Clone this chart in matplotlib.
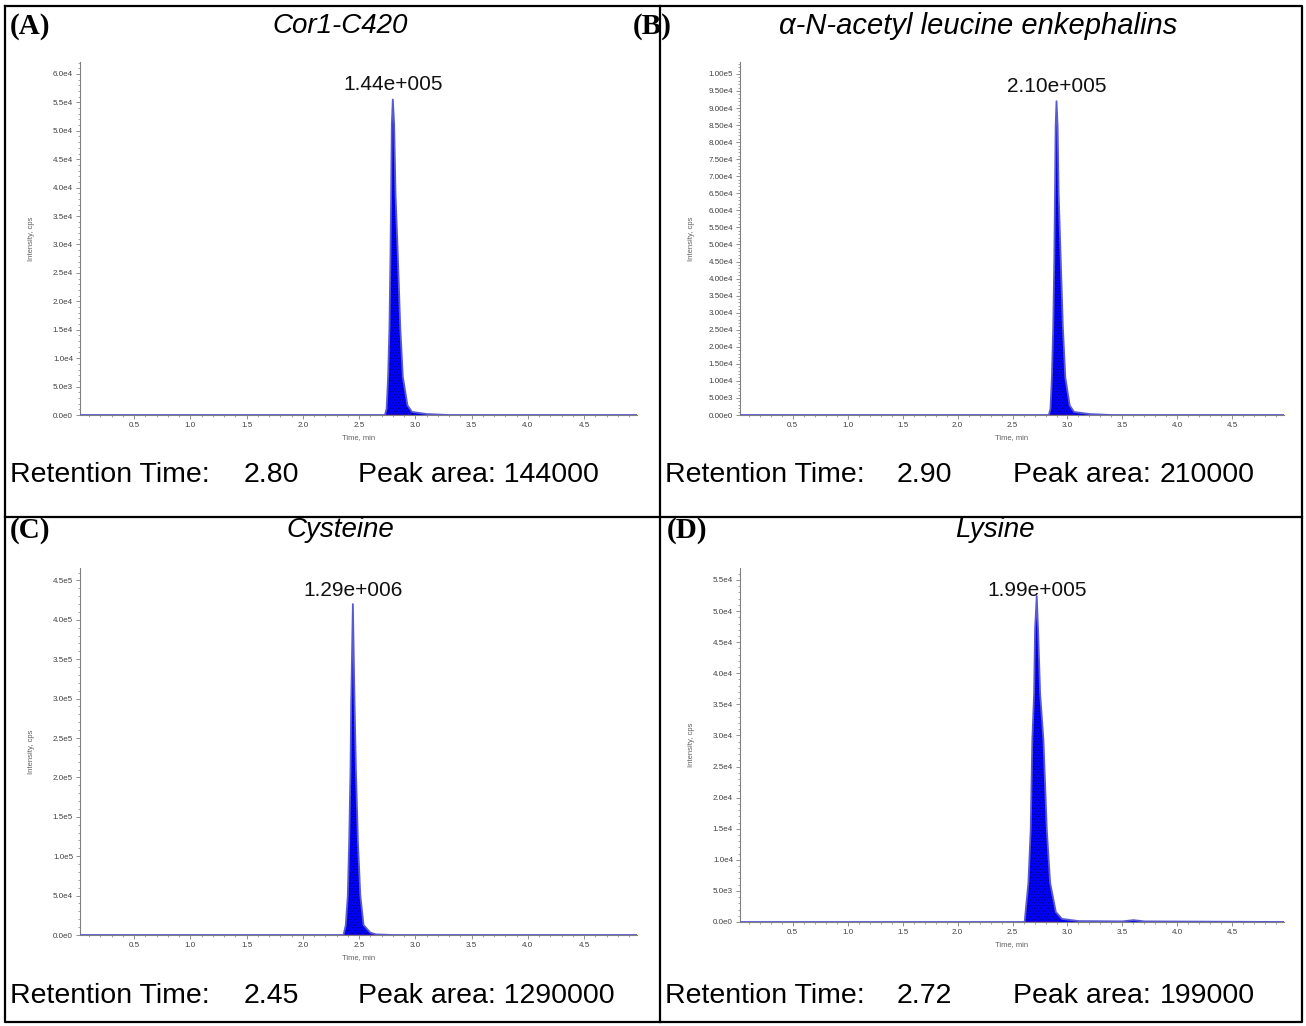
import numpy as np
import matplotlib.pyplot as plt
from matplotlib.lines import Line2D
from matplotlib.ticker import MultipleLocator, FuncFormatter

# ---- data ----
compounds = ['Cor1-C420', 'α-N-acetyl leucine enkephalins', 'Cysteine', 'Lysine']
letters = ['(A)', '(B)', '(C)', '(D)']
retention = ['2.80', '2.90', '2.45', '2.72']
peak_area = ['144000', '210000', '1290000', '199000']
peak_labels = ['1.44e+005', '2.10e+005', '1.29e+006', '1.99e+005']

time_a = [0.02, 2.70, 2.73, 2.745, 2.758, 2.770, 2.779, 2.785, 2.791, 2.80, 2.812, 2.824,
          2.845, 2.866, 2.889, 2.93, 2.97, 3.10, 3.30, 5.00]
int_a = [0, 0, 0, 1100, 6700, 15500, 27800, 38900, 51100, 55500, 51100, 38900,
         27800, 15500, 6700, 1700, 550, 170, 0, 0]

time_b = [0.02, 2.80, 2.83, 2.845, 2.858, 2.870, 2.880, 2.886, 2.892, 2.90, 2.910, 2.920,
          2.938, 2.958, 2.980, 3.02, 3.06, 3.20, 3.40, 5.00]
int_b = [0, 0, 0, 1800, 11000, 25700, 46000, 64400, 84600, 92000, 84600, 64400,
         46000, 25700, 11000, 2800, 900, 280, 0, 0]

time_c = [0.02, 2.33, 2.362, 2.382, 2.400, 2.412, 2.424, 2.430, 2.445, 2.460, 2.472,
          2.490, 2.511, 2.540, 2.600, 2.65, 2.80, 5.00]
int_c = [0, 0, 0, 12600, 50400, 117600, 210000, 294000, 420000, 294000, 210000,
         117600, 50400, 12600, 3000, 800, 0, 0]

time_d = [0.02, 2.58, 2.61, 2.644, 2.665, 2.680, 2.696, 2.705, 2.72, 2.732, 2.751,
          2.781, 2.812, 2.842, 2.894, 2.95, 3.10, 3.50, 3.60, 3.70, 5.00]
int_d = [0, 0, 0, 6300, 14700, 29300, 36700, 47200, 52400, 47200, 36700,
         29300, 14700, 6300, 1600, 500, 150, 100, 300, 100, 0]

times = [time_a, time_b, time_c, time_d]
intens = [int_a, int_b, int_c, int_d]
y_top = [6.0e4, 1.00e5, 4.5e5, 5.5e4]
y_major = [5000, 5000, 50000, 5000]
y_digits = [1, 2, 1, 1]
baseline_span = [(2.73, 2.95), (2.83, 3.05), (2.37, 2.63), (2.61, 2.90)]
x_ticks = [0.5, 1.0, 1.5, 2.0, 2.5, 3.0, 3.5, 4.0, 4.5]

# ---- layout (pixels) ----
W, H = 1306, 1026
axes_px = [(80, 62, 637, 415), (740, 62, 1284, 415),
           (80, 568, 637, 935), (740, 568, 1284, 922)]
title_x = [340, 978, 340, 995]
title_y = [26, 26, 530, 530]
title_size = [20, 21, 20, 20]
letter_x = [10, 633, 10, 667]
text_y = [475, 475, 996, 996]
col_x = [(10, 244, 358, None), (665, 897, 1013, 1160),
         (10, 244, 358, None), (665, 897, 1013, 1160)]
label_offset = [4, 4, 3, -3]

plt.rcParams['hatch.linewidth'] = 0.6
fig = plt.figure(figsize=(W / 100, H / 100), dpi=100)


def fx(px):
    return px / W


def fy(py):
    return 1 - py / H


def sci(v, d):
    if v == 0:
        return f"{0:.{d}f}e0"
    e = int(np.floor(np.log10(abs(v)) + 1e-9))
    return f"{v / 10 ** e:.{d}f}e{e}"


sans = 'Liberation Sans'
for i in range(4):
    l, t, r, b = axes_px[i]
    ax = fig.add_axes([fx(l), fy(b), fx(r - l), (b - t) / H])
    tt = np.array(times[i])
    yy = np.array(intens[i])
    ax.fill_between(tt, 0, yy, facecolor='#0000ff', edgecolor='#00008c',
                    hatch='......', linewidth=0, zorder=2)
    ax.plot(tt, yy, color='#5a5ad0', lw=1.3, zorder=3)
    s0, s1 = baseline_span[i]
    ax.plot([s0, s1], [0, 0], color='#e02020', lw=1.0, zorder=4)
    k = int(np.argmax(yy))
    ax.annotate(peak_labels[i], xy=(tt[k], yy[k]), xytext=(0, label_offset[i]),
                textcoords='offset points', ha='center', va='bottom',
                fontsize=15, family=sans, color='#111111')

    ax.set_xlim(0.02, 4.97)
    ax.set_ylim(0, y_top[i] * 1.035)
    for s in ['top', 'right']:
        ax.spines[s].set_visible(False)
    for s in ['left', 'bottom']:
        ax.spines[s].set_color('#808080')
        ax.spines[s].set_linewidth(0.8)
    ax.set_xticks(x_ticks)
    ax.set_xticklabels([f"{v:.1f}" for v in x_ticks])
    ax.xaxis.set_minor_locator(MultipleLocator(0.1))
    ax.yaxis.set_major_locator(MultipleLocator(y_major[i]))
    ax.yaxis.set_minor_locator(MultipleLocator(y_major[i] / 5))
    d = y_digits[i]
    ax.yaxis.set_major_formatter(FuncFormatter(lambda v, p, d=d: sci(v, d)))
    ax.tick_params(which='major', length=3, width=0.6, color='#808080',
                   labelsize=5.8, labelcolor='#404040', pad=2)
    ax.tick_params(which='minor', length=1.5, width=0.5, color='#808080')
    for lab in ax.get_xticklabels() + ax.get_yticklabels():
        lab.set_family(sans)
    ax.set_xlabel('Time, min', fontsize=5.5, color='#606060', family=sans, labelpad=4)
    ax.set_ylabel('Intensity, cps', fontsize=5.5, color='#606060', family=sans)
    ax.yaxis.set_label_coords(-45 / (r - l), 0.5)

    fig.text(fx(letter_x[i]), fy(title_y[i]), letters[i], fontsize=21,
             family='Liberation Serif', weight='bold', va='center', ha='left')
    fig.text(fx(title_x[i]), fy(title_y[i]), compounds[i], fontsize=title_size[i],
             family=sans, style='italic', va='center', ha='center')

    c0, c1, c2, c3 = col_x[i]
    fs = 20.5
    fig.text(fx(c0), fy(text_y[i]), 'Retention Time:', fontsize=fs, family=sans, va='center')
    fig.text(fx(c1), fy(text_y[i]), retention[i], fontsize=fs, family=sans, va='center')
    if c3 is None:
        fig.text(fx(c2), fy(text_y[i]), 'Peak area: ' + peak_area[i], fontsize=fs,
                 family=sans, va='center')
    else:
        fig.text(fx(c2), fy(text_y[i]), 'Peak area:', fontsize=fs, family=sans, va='center')
        fig.text(fx(c3), fy(text_y[i]), peak_area[i], fontsize=fs, family=sans, va='center')

# ---- panel borders ----
border = dict(color='black', lw=1.6, transform=fig.transFigure)
fig.add_artist(Line2D([fx(5), fx(1302), fx(1302), fx(5), fx(5)],
                      [fy(6), fy(6), fy(1022), fy(1022), fy(6)], **border))
fig.add_artist(Line2D([fx(660), fx(660)], [fy(6), fy(1022)], **border))
fig.add_artist(Line2D([fx(5), fx(1302)], [fy(517), fy(517)], **border))

fig.savefig('out.png', dpi=100)
